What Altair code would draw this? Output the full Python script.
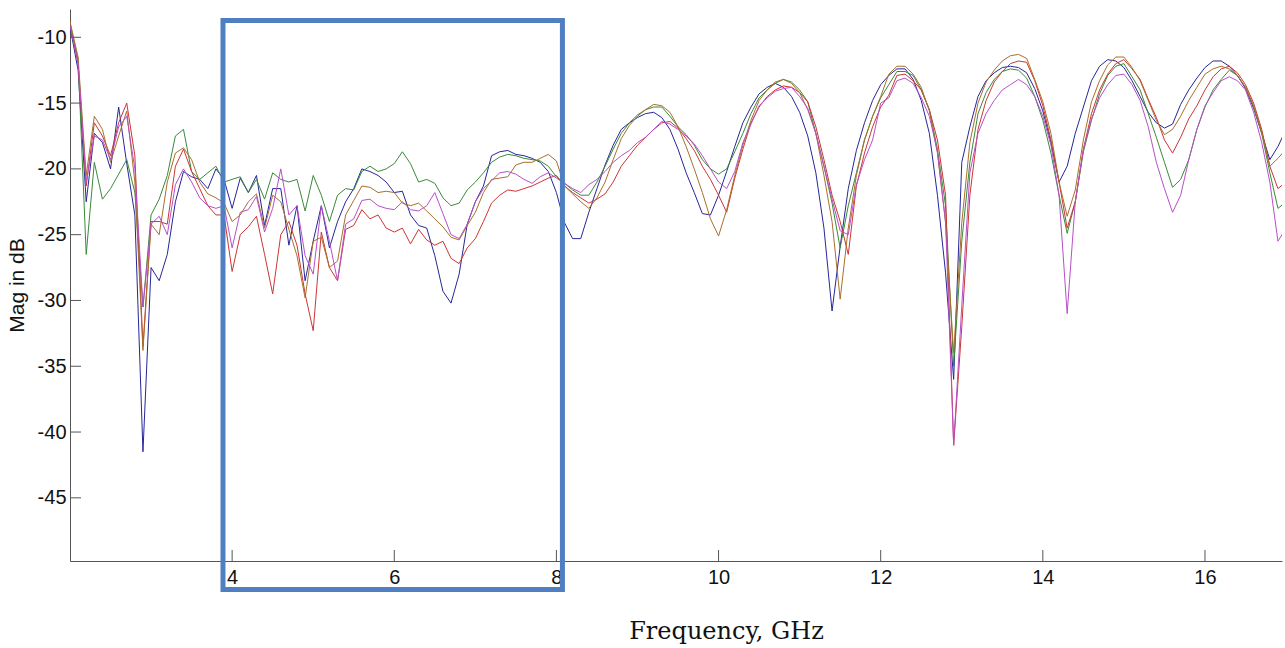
import altair as alt
import pandas as pd

# Frequency grid (GHz)
freq = [round(2.0 + 0.1 * i, 1) for i in range(151)]

blue = [
    -9.2, -12.5, -22.5, -17.3, -18.0, -20.0, -15.3, -19.6, -23.5, -41.5,
    -27.5, -28.5, -26.5, -22.5, -20.2, -20.6, -20.8, -21.5, -20.0, -20.8,
    -23.0, -20.7, -21.8, -20.5, -24.3, -21.5, -21.5, -25.8, -22.8, -28.5,
    -25.5, -22.8, -26.0, -24.0, -22.5, -21.5, -20.0, -20.2, -20.5, -21.0,
    -21.8, -21.7, -23.5, -24.3, -24.5, -26.6, -29.3, -30.2, -28.0, -24.2,
    -22.5, -21.3, -19.0, -18.7, -18.6, -18.9, -19.0, -19.2, -19.5, -20.2,
    -21.8, -24.1, -25.3, -25.3, -23.3, -21.5, -19.7, -18.2, -17.0, -16.5,
    -16.1, -15.8, -15.7, -16.1, -17.0, -18.5, -20.3, -21.8, -23.4, -23.5,
    -22.0, -20.2, -18.3, -16.5, -15.3, -14.3, -13.8, -13.5, -13.8, -14.5,
    -15.7, -17.5, -20.3, -24.5, -30.8, -25.9, -21.5, -18.6, -16.5, -14.8,
    -13.6, -12.9, -12.4, -12.4, -13.2, -14.8, -17.3, -22.0, -27.9, -36.0,
    -19.5, -16.8, -14.5, -13.3, -12.7, -12.3, -12.2, -12.3, -12.7, -13.9,
    -15.6, -18.0, -21.0, -19.8, -17.3, -15.3, -13.3, -12.2, -11.7, -11.8,
    -12.3, -13.3, -14.5, -15.7, -16.5, -16.9, -16.6, -15.1, -14.0, -13.1,
    -12.3, -11.8, -11.8, -12.2, -12.9, -13.9, -15.4, -17.3, -19.3, -18.3,
    -17.0,
]

green = [
    -9.0, -11.7, -26.5, -19.5, -22.3, -21.5, -20.4, -19.3, -21.8, -30.5,
    -23.5, -22.3, -20.5, -17.5, -17.0, -20.2, -20.8, -20.3, -19.8, -21.0,
    -20.8, -20.6, -21.8, -20.8, -22.3, -20.3, -20.8, -21.0, -20.8, -23.2,
    -20.5, -22.0, -24.0, -22.0, -21.5, -21.6, -20.2, -19.8, -20.2, -20.0,
    -19.6, -18.7, -19.6, -21.0, -20.8, -21.1, -22.2, -22.8, -22.6, -21.6,
    -21.0, -20.3, -19.5, -19.1, -18.9, -19.0, -19.2, -19.3, -19.4, -19.8,
    -20.6, -21.1, -21.6, -22.0, -22.0, -21.0, -19.8, -18.5, -17.3, -16.5,
    -15.9, -15.5, -15.3, -15.3, -16.0, -16.8, -17.4, -18.2, -19.3, -20.0,
    -20.4, -20.0, -18.7, -17.3, -15.8, -14.6, -14.0, -13.5, -13.2, -13.4,
    -14.0, -14.9, -17.3, -19.8, -22.6, -26.0, -22.8, -20.3, -17.8, -16.0,
    -14.6, -13.6, -12.6, -12.6, -12.9, -14.0, -15.5, -18.5, -22.8, -35.0,
    -25.5, -19.5, -15.8, -14.2, -13.2, -12.6, -12.4, -12.5, -13.1, -14.5,
    -16.3, -18.8, -22.0, -24.9, -22.5, -18.7, -16.3, -14.3, -12.9, -12.2,
    -12.0, -13.0, -14.0, -15.8, -17.6, -19.5, -21.4, -20.8, -19.3, -17.0,
    -15.3, -14.0, -13.2, -12.5, -12.9, -13.8, -15.3, -17.3, -20.3, -23.0,
    -22.5,
]

red = [
    -8.9, -12.0, -21.3, -16.5, -17.5, -19.0, -16.5, -15.0, -19.0, -33.5,
    -24.0, -24.0, -24.2, -19.8, -18.5, -20.2, -21.5, -22.8, -23.5, -23.5,
    -27.8, -25.0, -24.4, -23.6, -26.5, -29.5, -25.0, -24.0, -25.8, -29.5,
    -32.3, -24.8, -27.5, -28.5, -24.6, -24.3, -23.1, -23.8, -23.5, -24.5,
    -24.8, -24.5, -25.7, -24.6, -25.4, -25.8, -25.5, -26.8, -27.2, -26.0,
    -25.3, -24.0, -22.6, -22.0, -21.6, -21.7, -21.5, -21.3, -21.0, -20.7,
    -20.5, -21.3, -21.8, -22.2, -22.6, -22.3, -21.9, -21.0, -19.8, -19.0,
    -18.2, -17.6, -17.0, -16.5, -16.4, -16.9, -17.7, -18.6, -19.8, -20.8,
    -22.0, -23.3, -20.7, -18.5, -16.5, -15.3, -14.5, -14.0, -13.7, -13.8,
    -14.2, -14.9, -16.8, -19.3, -22.0, -24.0, -26.5, -21.3, -18.8, -16.8,
    -15.3, -14.4, -12.9, -12.8, -13.3, -14.0, -15.5, -17.8, -22.0, -41.0,
    -32.0, -22.0, -17.0, -14.8, -13.4, -12.6, -12.0, -11.8, -11.9, -13.3,
    -15.2, -17.8, -21.0, -24.5, -22.5, -18.5, -15.8, -14.0, -12.8, -12.0,
    -11.7, -12.4, -13.2, -14.7, -16.1, -17.8, -18.8, -17.6, -16.2, -15.2,
    -14.0, -13.0, -12.4, -12.2, -12.7, -13.6, -15.0, -17.0, -19.8, -21.5,
    -21.0,
]

brown = [
    -8.8, -11.5, -20.5, -16.0, -17.0, -19.5, -17.5, -15.6, -21.0, -33.8,
    -24.2, -25.0, -21.0, -18.8, -18.4, -19.3, -21.0, -21.9, -22.2, -22.6,
    -24.0, -23.5, -22.5, -21.9, -24.5, -22.0, -22.5, -24.6, -26.6, -29.8,
    -25.5, -25.2, -27.5, -27.0, -23.5, -22.4, -21.3, -21.4, -21.8, -21.7,
    -21.8, -22.6, -22.8, -22.6, -23.2, -23.8, -24.4, -25.2, -25.4, -24.3,
    -23.3, -21.8, -20.8, -20.7, -20.6, -19.7, -19.5, -19.5, -19.2, -18.9,
    -19.4, -21.3, -21.9, -22.5, -23.0, -22.2, -21.0, -19.3, -17.7, -16.7,
    -16.0, -15.5, -15.1, -15.2, -15.7, -16.8, -18.3, -20.0, -21.8, -23.8,
    -25.1, -23.1, -20.5, -18.2, -16.3, -14.8, -14.0, -13.4, -13.2, -13.5,
    -14.2, -15.5, -17.3, -20.5, -24.0, -29.9, -24.5, -20.5, -17.8, -16.0,
    -14.5, -12.8, -12.2, -12.2, -12.8, -13.8, -15.6, -18.8, -24.1, -34.0,
    -24.1, -18.0, -15.0, -13.4, -12.5, -11.8, -11.4, -11.3, -11.6, -13.2,
    -14.9, -17.3, -21.0, -23.6, -21.6, -17.8, -14.9, -13.3, -12.1, -11.5,
    -11.5, -12.3, -13.3, -14.8, -16.3, -17.4, -17.0, -16.0, -14.8, -13.8,
    -12.8, -12.4, -12.2, -12.4, -12.9, -13.8, -15.2, -17.2, -19.8, -19.2,
    -18.5,
]

magenta = [
    -9.1, -12.0, -21.0, -17.5, -17.8, -19.3, -16.8, -16.0, -20.0, -30.5,
    -24.2, -23.6, -25.0, -21.2, -20.0, -21.0, -22.2, -22.8, -23.0, -22.8,
    -26.0, -23.3, -23.1, -22.1, -24.8, -23.0, -20.0, -23.5, -22.8, -26.6,
    -28.0, -22.8, -25.5, -28.5, -24.2, -23.8, -22.4, -22.3, -22.8, -23.0,
    -23.1, -22.5, -23.1, -23.2, -22.8, -21.8, -23.4, -25.0, -25.3, -24.2,
    -22.5, -21.5, -20.9, -20.3, -20.2, -20.4, -20.8, -21.1, -20.6, -20.3,
    -20.7, -21.1, -21.5, -21.8, -21.2, -20.8, -20.2, -19.5, -19.0, -18.6,
    -18.0, -17.6, -17.0, -16.4, -16.6, -17.0, -17.5, -18.1, -19.0, -20.0,
    -21.0, -21.5, -20.2, -18.0, -16.6, -15.2, -14.6, -14.1, -13.9, -13.8,
    -14.5, -15.4, -17.3, -19.8, -22.3, -24.7, -25.0, -21.2, -19.3, -17.8,
    -15.0, -14.6, -13.3, -13.1, -13.5, -14.6, -16.0, -18.7, -24.0, -41.0,
    -30.4, -20.3, -17.3, -15.8, -14.8, -14.0, -13.6, -13.2, -13.6, -14.5,
    -16.0, -18.2, -22.0, -31.0, -22.5, -18.5, -16.2, -14.6, -13.6, -12.9,
    -12.8, -13.6, -14.8, -16.8, -19.5, -21.5, -23.3, -22.0, -19.3, -17.0,
    -15.2, -14.2, -13.3, -13.0, -13.3, -14.0, -15.7, -18.0, -21.0, -25.5,
    -24.5,
]

series_names = ["blue", "green", "red", "brown", "magenta"]
series_colors = ["#26269a", "#3a8a3a", "#cc3535", "#a8702a", "#b84fc8"]

x_ticks = [4, 6, 8, 10, 12, 14, 16]
y_ticks = [-45, -40, -35, -30, -25, -20, -15, -10]

# Highlight box (GHz / dB)
box_x = [3.887]
box_x2 = [8.074]
box_y = [-8.73]
box_y2 = [-51.97]

X_DOMAIN = [2.0, 16.95]
Y_DOMAIN = [-49.8, -7.85]
W, H = 1212, 552

rows = []
for name, vals in zip(series_names, [blue, green, red, brown, magenta]):
    for f, v in zip(freq, vals):
        rows.append({"f": f, "v": v, "s": name})
df = pd.DataFrame(rows)

xs = alt.Scale(domain=X_DOMAIN, nice=False, zero=False)
ys = alt.Scale(domain=Y_DOMAIN, nice=False, zero=False)

x_axis = alt.Axis(
    values=x_ticks, tickSize=0, labelPadding=6, labelFontSize=20,
    labelFont="Liberation Sans", labelColor="#111", domainColor="#555",
    domainWidth=1, grid=False, labelExpr="'' + datum.value",
    title="Frequency, GHz", titleFont="DejaVu Serif",
    titleFontSize=24, titleFontWeight="normal", titleColor="#111",
    titleX=656, titleY=77, titleAlign="center", titleBaseline="alphabetic",
    titleAnchor="start",
)
y_axis = alt.Axis(
    values=y_ticks, tickSize=0, labelPadding=4, labelFontSize=20,
    labelFont="Liberation Sans", labelColor="#111", domainColor="#555",
    domainWidth=1, grid=False, labelExpr="'' + datum.value",
    title="Mag in dB", titleFont="Liberation Sans",
    titleFontSize=21, titleFontWeight="normal", titleColor="#111",
    titleX=-47, titleY=276, titleAngle=270, titleAlign="center",
    titleBaseline="alphabetic", titleAnchor="start",
)

lines = alt.Chart(df).mark_line(strokeWidth=1, clip=True).encode(
    x=alt.X("f:Q", scale=xs, axis=x_axis),
    y=alt.Y("v:Q", scale=ys, axis=y_axis),
    color=alt.Color("s:N", scale=alt.Scale(domain=series_names, range=series_colors), legend=None),
    detail="s:N",
)

xt = alt.Chart(pd.DataFrame({"t": x_ticks})).mark_rule(color="#555", strokeWidth=1).encode(
    x=alt.X("t:Q", scale=xs), y=alt.value(H), y2=alt.value(H - 11)
)
yt = alt.Chart(pd.DataFrame({"t": y_ticks})).mark_rule(color="#555", strokeWidth=1).encode(
    y=alt.Y("t:Q", scale=ys), x=alt.value(0), x2=alt.value(11)
)

box = alt.Chart(pd.DataFrame({"x": box_x, "x2": box_x2, "y": box_y, "y2": box_y2})).mark_rect(
    filled=False, stroke="#4f7fc0", strokeWidth=5, clip=False, strokeJoin="miter"
).encode(
    x=alt.X("x:Q", scale=xs), x2="x2:Q", y=alt.Y("y:Q", scale=ys), y2="y2:Q"
)

chart = alt.layer(lines, xt, yt, box).properties(
    width=W, height=H,
    background="white",
    autosize=alt.AutoSizeParams(type="none"),
    padding={"left": 70, "top": 9, "right": 3, "bottom": 87},
).configure_view(strokeWidth=0, stroke="transparent")

chart.save("out.html", embed_options={"renderer": "svg", "actions": False})
